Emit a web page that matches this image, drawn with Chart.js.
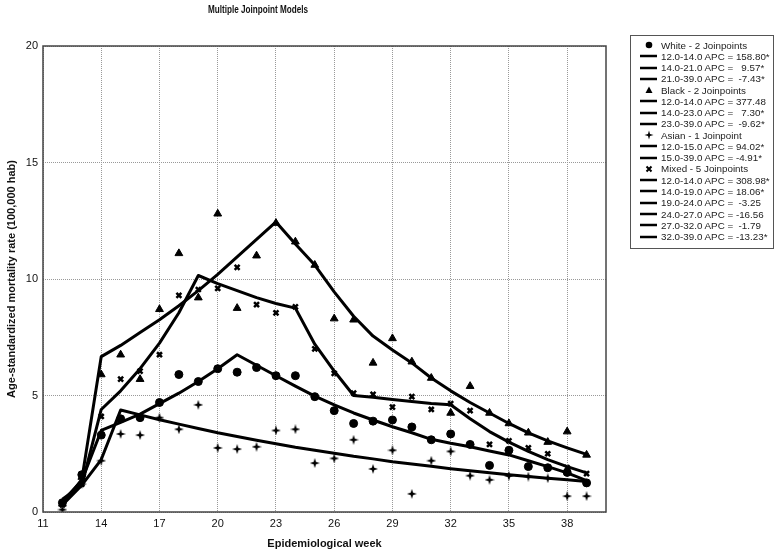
<!DOCTYPE html>
<html>
<head>
<meta charset="utf-8">
<script src="https://cdn.jsdelivr.net/npm/chart.js"></script>
<style>
  body { margin: 0; background: #fff; }
  #wrap { position: relative; width: 780px; height: 556px; }
  #legend {
    position: absolute; left: 630px; top: 35px; width: 144px; height: 214px;
    border: 1px solid #555; box-sizing: border-box; padding-top: 3.4px;
    font: 9.8px "Liberation Sans", Arial, sans-serif; color: #222;
  }
  #legend .row { display: flex; align-items: center; height: 11.28px; white-space: pre; }
  #legend svg { margin-left: 8px; margin-right: 1px; flex: none; }
</style>
</head>
<body>
<div id="wrap">
  <canvas id="chart" width="780" height="556"></canvas>
  <div id="legend"></div>
</div>
<script>
// weeks 12..39
const weeks = [12,13,14,15,16,17,18,19,20,21,22,23,24,25,26,27,28,29,30,31,32,33,34,35,36,37,38,39];
const xTicks = [11,14,17,20,23,26,29,32,35,38];

const whiteObs = [0.4,1.6,3.3,4.0,4.05,4.7,5.9,5.6,6.15,6.0,6.2,5.85,5.85,4.95,4.35,3.8,3.9,3.95,3.65,3.1,3.35,2.9,2.0,2.65,1.95,1.9,1.7,1.25];
const blackObs = [0.35,1.5,5.9,6.75,5.7,8.7,11.1,9.2,12.8,8.75,11.0,12.4,11.6,10.6,8.3,8.25,6.4,7.45,6.45,5.75,4.25,5.4,4.25,3.8,3.4,3.0,3.45,2.45];
const asianObs = [0.1,1.2,2.2,3.35,3.3,4.05,3.55,4.6,2.75,2.7,2.8,3.5,3.55,2.1,2.3,3.1,1.85,2.65,0.78,2.2,2.6,1.56,1.38,1.55,1.52,1.45,0.68,0.68];
const mixedObs = [0.3,1.2,4.1,5.7,6.05,6.75,9.3,9.55,9.6,10.5,8.9,8.55,8.8,7.0,5.95,5.1,5.05,4.5,4.95,4.4,4.65,4.35,2.9,3.05,2.75,2.5,1.9,1.65];

// fitted joinpoint lines
const whiteFit = [0.45,1.35,3.5,3.85,4.2,4.65,5.1,5.6,6.15,6.75,6.3,5.85,5.4,4.97,4.6,4.25,3.95,3.66,3.4,3.12,2.95,2.8,2.62,2.45,2.2,1.95,1.68,1.35];
const blackFit = [0.3,1.4,6.67,7.15,7.7,8.25,8.85,9.5,10.2,10.95,11.7,12.45,11.5,10.6,9.45,8.4,7.55,6.95,6.4,5.75,5.2,4.7,4.25,3.8,3.4,3.05,2.75,2.47];
const asianFit = [0.55,1.15,2.25,4.38,4.17,3.96,3.77,3.58,3.4,3.24,3.08,2.93,2.78,2.65,2.52,2.39,2.28,2.16,2.06,1.96,1.86,1.77,1.68,1.6,1.52,1.45,1.38,1.31];
const mixedFit = [0.3,1.15,4.4,5.2,6.15,7.25,8.55,10.15,9.8,9.5,9.2,8.95,8.75,7.2,6.05,5.0,4.92,4.83,4.74,4.66,4.6,4.0,3.45,3.0,2.6,2.25,1.95,1.68];

const legendRows = [
  ["circle", "White - 2 Joinpoints"],
  ["line", "12.0-14.0 APC = 158.80*"],
  ["line", "14.0-21.0 APC =   9.57*"],
  ["line", "21.0-39.0 APC =  -7.43*"],
  ["triangle", "Black - 2 Joinpoints"],
  ["line", "12.0-14.0 APC = 377.48"],
  ["line", "14.0-23.0 APC =   7.30*"],
  ["line", "23.0-39.0 APC =  -9.62*"],
  ["star", "Asian - 1 Joinpoint"],
  ["line", "12.0-15.0 APC = 94.02*"],
  ["line", "15.0-39.0 APC = -4.91*"],
  ["cross", "Mixed - 5 Joinpoints"],
  ["line", "12.0-14.0 APC = 308.98*"],
  ["line", "14.0-19.0 APC = 18.06*"],
  ["line", "19.0-24.0 APC =  -3.25"],
  ["line", "24.0-27.0 APC = -16.56"],
  ["line", "27.0-32.0 APC =  -1.79"],
  ["line", "32.0-39.0 APC = -13.23*"]
];

const svgMarks = {
  circle: '<circle cx="10" cy="6" r="3.3" fill="#000"/>',
  triangle: '<path d="M10,2.5 L13.5,9 L6.5,9 Z" fill="#000"/>',
  star: '<path d="M10,1.5 L11,5 L14.5,6 L11,7 L10,10.5 L9,7 L5.5,6 L9,5 Z" fill="#000"/>',
  cross: '<path d="M7.5,3.5 L12.5,8.5 M12.5,3.5 L7.5,8.5" stroke="#000" stroke-width="2"/>',
  line: '<path d="M1,6 L18,6" stroke="#000" stroke-width="2.5"/>'
};

const legend = document.getElementById("legend");
legendRows.forEach(([mark, text]) => {
  const row = document.createElement("div");
  row.className = "row";
  row.innerHTML = `<svg width="21" height="12">${svgMarks[mark]}</svg><span>${text}</span>`;
  legend.appendChild(row);
});

// four-point star marker for Asian series
const starImg = document.createElement("canvas");
starImg.width = 10; starImg.height = 10;
(function () {
  const c = starImg.getContext("2d");
  c.fillStyle = "#000";
  c.beginPath();
  c.moveTo(5, 0); c.lineTo(6.2, 3.8); c.lineTo(10, 5); c.lineTo(6.2, 6.2);
  c.lineTo(5, 10); c.lineTo(3.8, 6.2); c.lineTo(0, 5); c.lineTo(3.8, 3.8);
  c.closePath(); c.fill();
})();

const pts = arr => weeks.map((w, i) => ({x: w, y: arr[i]}));

function obsSet(label, arr, style, radius, bw) {
  return {
    label, data: pts(arr), showLine: false,
    pointStyle: style, pointRadius: radius, pointHoverRadius: radius,
    backgroundColor: "#000", borderColor: "#000", pointBorderWidth: bw
  };
}
function fitSet(label, arr) {
  return {
    label, data: pts(arr), showLine: true, pointRadius: 0,
    borderColor: "#000", borderWidth: 3, tension: 0, borderJoinStyle: "round"
  };
}

const framePlugin = {
  id: "frame",
  afterDraw(chart) {
    const {ctx, chartArea: a} = chart;
    ctx.save();
    ctx.strokeStyle = "#444";
    ctx.lineWidth = 1.5;
    ctx.strokeRect(a.left, a.top, a.right - a.left, a.bottom - a.top);
    // condensed bold title
    ctx.fillStyle = "#111";
    ctx.font = 'bold 11px "Liberation Sans", Arial, sans-serif';
    ctx.textAlign = "center";
    ctx.textBaseline = "middle";
    ctx.translate(258, 10);
    ctx.scale(0.74, 1);
    ctx.fillText("Multiple Joinpoint Models", 0, 0);
    ctx.restore();
  }
};

new Chart(document.getElementById("chart"), {
  type: "scatter",
  data: {
    datasets: [
      fitSet("White fit", whiteFit),
      fitSet("Black fit", blackFit),
      fitSet("Asian fit", asianFit),
      fitSet("Mixed fit", mixedFit),
      obsSet("White", whiteObs, "circle", 4, 1),
      obsSet("Black", blackObs, "triangle", 4.5, 1),
      obsSet("Asian", asianObs, starImg, 5, 1),
      obsSet("Mixed", mixedObs, "crossRot", 3.5, 2.5)
    ]
  },
  options: {
    responsive: false,
    animation: false,
    layout: { padding: { left: 0, top: 46, right: 174, bottom: 0 } },
    plugins: { legend: { display: false }, tooltip: { enabled: false } },
    scales: {
      x: {
        type: "linear", min: 11, max: 40,
        afterBuildTicks: s => { s.ticks = xTicks.map(v => ({value: v})); },
        afterFit: s => { s.height = 44; },
        grid: { color: "#999", drawTicks: false },
        border: { display: false, dash: [1, 1] },
        ticks: { color: "#111", padding: 5, font: { family: "Liberation Sans", size: 11 } },
        title: {
          display: true, text: "Epidemiological week", color: "#111",
          font: { family: "Liberation Sans", size: 11, weight: "bold" },
          padding: { top: 0, bottom: 5 }
        }
      },
      y: {
        min: 0, max: 20,
        ticks: { stepSize: 5, color: "#111", padding: 5, font: { family: "Liberation Sans", size: 11 } },
        afterFit: s => { s.width = 43; },
        grid: { color: "#999", drawTicks: false },
        border: { display: false, dash: [1, 1] },
        title: {
          display: true, text: "Age-standardized mortality rate (100,000 hab)", color: "#111",
          font: { family: "Liberation Sans", size: 11, weight: "bold" },
          padding: { top: 5, bottom: 0 }
        }
      }
    }
  },
  plugins: [framePlugin]
});
</script>
</body>
</html>
